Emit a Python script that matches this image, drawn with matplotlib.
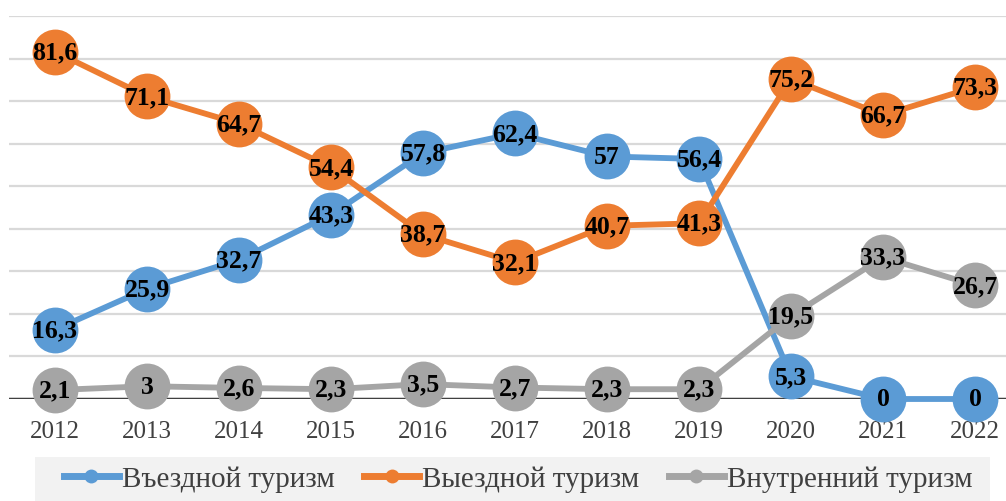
import matplotlib.pyplot as plt
from matplotlib.patches import Rectangle

# Data
years = ['2012', '2013', '2014', '2015', '2016', '2017', '2018', '2019', '2020', '2021', '2022']
inbound = [16.3, 25.9, 32.7, 43.3, 57.8, 62.4, 57, 56.4, 5.3, 0, 0]
outbound = [81.6, 71.1, 64.7, 54.4, 38.7, 32.1, 40.7, 41.3, 75.2, 66.7, 73.3]
domestic = [2.1, 3, 2.6, 2.3, 3.5, 2.7, 2.3, 2.3, 19.5, 33.3, 26.7]
series_names = ['Въездной туризм', 'Выездной туризм', 'Внутренний туризм']
colors = ['#5B9BD5', '#ED7D31', '#A5A5A5']

plt.rcParams['font.family'] = ['Liberation Serif', 'DejaVu Serif']

W, H = 1006, 502
fig = plt.figure(figsize=(W / 100, H / 100), dpi=100)
# axes slightly wider than the figure: the original is cropped on the right
ax = fig.add_axes([9 / W, (H - 400) / H, (1021 - 9) / W, (400 - 17) / H])

x = list(range(len(years)))
for i, (vals, col, name) in enumerate(zip([inbound, outbound, domestic], colors, series_names)):
    ax.plot(x, vals, color=col, lw=4.2, zorder=3 + i, clip_on=False, label=name,
            marker='o', markersize=33, markeredgewidth=0)
    for xi, v in zip(x, vals):
        lbl = ('%g' % v).replace('.', ',')
        ax.text(xi, v, lbl, ha='center', va='center', fontsize=18.5,
                fontweight='bold', color='black', zorder=10)

ax.set_xlim(-0.5, len(years) - 0.5)
ax.set_ylim(0, 90)
ax.set_yticks(range(0, 100, 10))
ax.set_yticklabels([])
ax.tick_params(axis='y', length=0)
ax.grid(axis='y', color='#d9d9d9', lw=1.6)
ax.set_axisbelow(True)
for s in ax.spines.values():
    s.set_visible(False)
ax.axhline(0, color='#404040', lw=2.5, zorder=2)

ax.set_xticks(x)
ax.set_xticklabels(years, fontsize=18, color='#404040')
ax.tick_params(axis='x', length=0, pad=15)

# Legend with light background box
fig.patches.append(Rectangle((35 / W, -0.02), 955 / W, (44 + 10) / H,
                             transform=fig.transFigure, facecolor='#f2f2f2',
                             edgecolor='none', zorder=0))
handles = []
for col, name in zip(colors, series_names):
    h, = plt.plot([], [], color=col, lw=5, marker='o', markersize=10, markeredgewidth=0)
    handles.append(h)
leg = fig.legend(handles, series_names, loc='center', bbox_to_anchor=(518 / W, 22 / H),
                 ncol=3, frameon=False, fontsize=21, handlelength=1.9,
                 handletextpad=0.1, columnspacing=1.0)
for t in leg.get_texts():
    t.set_color('#404040')

fig.savefig('out.png', dpi=100)
